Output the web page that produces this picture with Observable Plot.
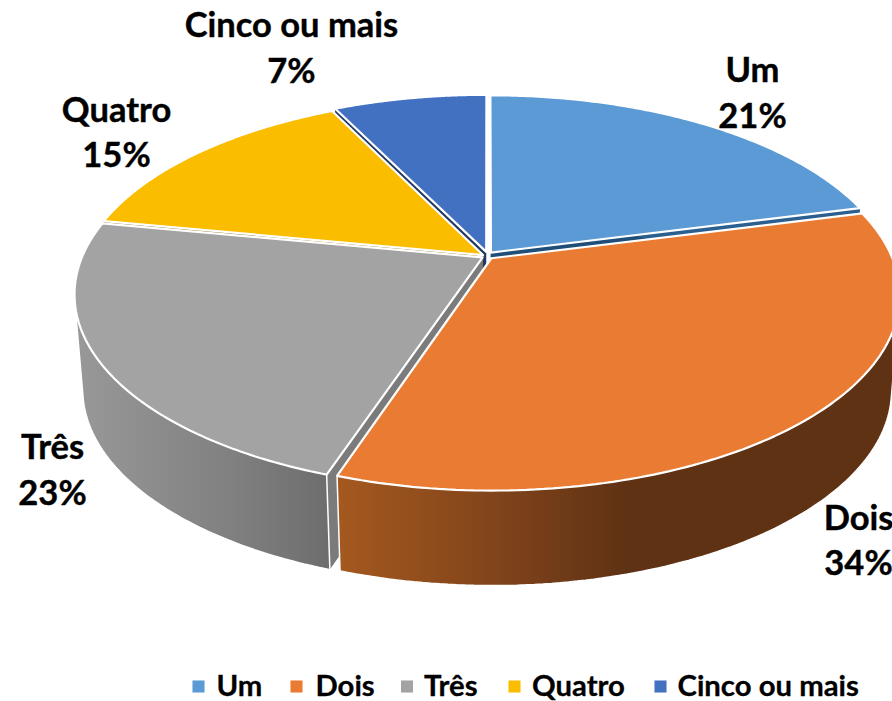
<!DOCTYPE html>
<html lang="pt">
<head>
<meta charset="utf-8">
<script src="https://cdn.jsdelivr.net/npm/d3@7"></script>
<script src="https://cdn.jsdelivr.net/npm/@observablehq/plot@0.6"></script>
<style>html,body{margin:0;padding:0;background:#fff}svg{display:block}</style>
</head>
<body>
<div id="chart"></div>
<script>
const categories = ["Um", "Dois", "Três", "Quatro", "Cinco ou mais"];
const shares = [21, 34.15, 22.85, 14.7, 7.3];
const topColors = ["#5b9ad5", "#ea7b32", "#a3a3a3", "#fbbd00", "#4371c1"];
const wallColors = ["#2a5f8f", "wallDois", "wallTres", "#7a5c00", "#203864"];
const cutColors = ["#1f4e79", "#8a4a1c", "#7b7b7b", "#8f6c00", "#1f3864"];

// pie geometry: a tilted disc seen in perspective
const cx = 487, cy = 255, rx = 400, ry = 187.7, tilt = 0.187, depth = 95, shrinkX = 0.98, burstU = 0.014, burstV = 0.02;
const burstVScale = [1, 1, 1, 0.2, 1];
function project(u, v, bottom) {
  const w = 1 - tilt * v;
  const s = bottom ? shrinkX : 1;
  return [cx + s * rx * u / w, cy + ry * v / w + (bottom ? depth : 0)];
}
const total = d3.sum(shares);
let acc = 0;
const slices = categories.map((name, i) => {
  const a0 = acc / total * 2 * Math.PI;
  acc += shares[i];
  const a1 = acc / total * 2 * Math.PI;
  const mid = (a0 + a1) / 2;
  const ou = burstU * Math.sin(mid), ov = -burstV * burstVScale[i] * Math.cos(mid);
  const at = (a, r, bottom) => project(ou + r * Math.sin(a), ov - r * Math.cos(a), bottom);
  const arc = (bottom) => d3.range(0, 121).map(k => at(a0 + (a1 - a0) * k / 120, 1, bottom));
  const cut = (a) => [at(a, 0, false), at(a, 1, false), at(a, 1, true), at(a, 0, true)];
  // a radial cut face shows only when the slice's body lies above its edge
  const faces = (a) => {
    const ex = Math.sin(a), ey = -Math.cos(a), mx = Math.sin(mid), my = -Math.cos(mid);
    return Math.sign(ex) !== Math.sign(ex * my - ey * mx);
  };
  return {
    i, name,
    front: Math.cos(mid) < 0,
    top: [at(0, 0, false), ...arc(false)],
    wall: d3.polygonHull([...arc(false), ...arc(true)]),
    cuts: [a0, a1].filter(faces).map(cut)
  };
});
const closed = pts => [...pts, pts[0]].map(([x, y]) => ({x, y}));
const face = (pts, fill, stroke, strokeWidth) =>
  Plot.line(closed(pts), {x: "x", y: "y", fill, stroke, strokeWidth, strokeLinejoin: "miter"});

const paintOrder = [4, 0, 3, 2, 1];
const faces = paintOrder.flatMap(i => {
  const s = slices[i];
  const wc = wallColors[i].startsWith("#") ? wallColors[i] : `url(#${wallColors[i]})`;
  return [
    ...s.cuts.map(c => face(c, cutColors[i], "none", 0)),
    face(s.wall, wc, s.front ? "white" : "none", 1.5),
    face(s.top, topColors[i], "white", 2.2)
  ];
});

function gradient(id, stops, x1, x2) {
  return `<linearGradient id="${id}" gradientUnits="userSpaceOnUse" x1="${x1}" x2="${x2}" y1="0" y2="0">` +
    stops.map(([o, c]) => `<stop offset="${o}" stop-color="${c}"/>`).join("") + `</linearGradient>`;
}
const defs = () => {
  const g = document.createElementNS("http://www.w3.org/2000/svg", "defs");
  g.innerHTML =
    gradient("wallDois", [[0, "#a5591f"], [0.3, "#7f431a"], [0.52, "#5f3214"], [1, "#5f3214"]], 335, 892) +
    gradient("wallTres", [[0, "#989898"], [0.6, "#808080"], [1, "#6c6c6c"]], 78, 335);
  return g;
};

const labelAt = [[752, 90], [858, 537.5], [52, 467], [116, 129.5], [291, 45]];
const labels = categories.map((name, i) => ({
  text: `${name}\n${Math.round(shares[i])}%`, x: labelAt[i][0], y: labelAt[i][1]
}));
const legendSquareX = [198, 296, 406.5, 514, 660];
const legendTextX = [216, 315, 423.5, 531.5, 677];
const legend = categories.map((name, i) => ({name, sx: legendSquareX[i], tx: legendTextX[i], y: 686, color: topColors[i]}));

const chart = Plot.plot({
  width: 892, height: 701, margin: 0,
  x: {domain: [0, 892], range: [0, 892], axis: null},
  y: {domain: [0, 701], range: [0, 701], axis: null},
  style: {background: "#fff", fontFamily: "Lato, sans-serif"},
  marks: [
    defs,
    ...faces,
    Plot.text(labels, {x: "x", y: "y", text: "text", fontSize: 34.5, fontWeight: 700, fill: "black", stroke: "black", strokeWidth: 0.4, lineHeight: 1.31, lineAnchor: "middle"}),
    Plot.dot(legend, {x: "sx", y: "y", symbol: "square", r: 6.8, fill: "color", stroke: "none"}),
    Plot.text(legend, {x: "tx", y: "y", text: "name", textAnchor: "start", fontSize: 29.3, fontWeight: 700, fill: "black", stroke: "black", strokeWidth: 0.3, lineAnchor: "middle"})
  ]
});
document.getElementById("chart").appendChild(chart);
</script>
</body>
</html>
